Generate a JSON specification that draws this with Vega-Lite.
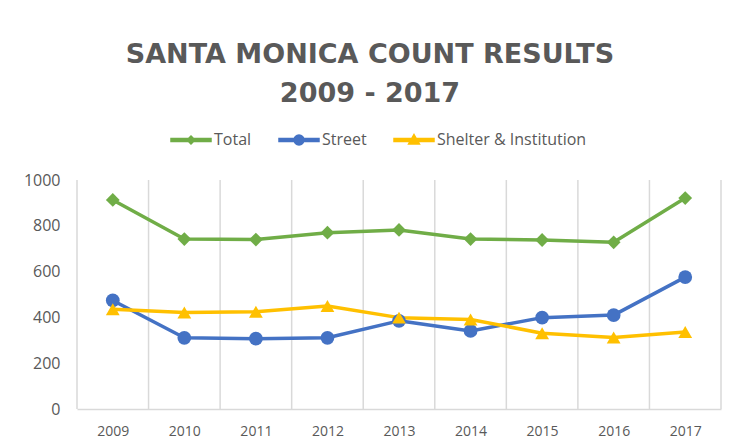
{
  "$schema": "https://vega.github.io/schema/vega-lite/v6.json",
  "width": 644,
  "height": 229,
  "autosize": "none",
  "padding": {"left": 77, "top": 180, "right": 17, "bottom": 36},
  "background": "white",
  "config": {"view": {"stroke": null}, "font": "Open Sans"},
  "title": {
    "text": ["SANTA MONICA COUNT RESULTS", "2009 - 2017"],
    "font": "DejaVu Sans",
    "fontSize": 27,
    "fontWeight": "bold",
    "color": "#595959",
    "lineHeight": 39,
    "anchor": "middle",
    "frame": "group",
    "dx": -29,
    "offset": 11
  },
  "data": {
    "values": [
      {"year": 2009, "series": "Total", "value": 913},
      {"year": 2010, "series": "Total", "value": 742},
      {"year": 2011, "series": "Total", "value": 740},
      {"year": 2012, "series": "Total", "value": 770},
      {"year": 2013, "series": "Total", "value": 782},
      {"year": 2014, "series": "Total", "value": 742},
      {"year": 2015, "series": "Total", "value": 738},
      {"year": 2016, "series": "Total", "value": 728},
      {"year": 2017, "series": "Total", "value": 921},
      {"year": 2009, "series": "Street", "value": 474},
      {"year": 2010, "series": "Street", "value": 311},
      {"year": 2011, "series": "Street", "value": 307},
      {"year": 2012, "series": "Street", "value": 311},
      {"year": 2013, "series": "Street", "value": 385},
      {"year": 2014, "series": "Street", "value": 341},
      {"year": 2015, "series": "Street", "value": 399},
      {"year": 2016, "series": "Street", "value": 410},
      {"year": 2017, "series": "Street", "value": 576},
      {"year": 2009, "series": "Shelter & Institution", "value": 436},
      {"year": 2010, "series": "Shelter & Institution", "value": 421},
      {"year": 2011, "series": "Shelter & Institution", "value": 425},
      {"year": 2012, "series": "Shelter & Institution", "value": 450},
      {"year": 2013, "series": "Shelter & Institution", "value": 399},
      {"year": 2014, "series": "Shelter & Institution", "value": 391},
      {"year": 2015, "series": "Shelter & Institution", "value": 331},
      {"year": 2016, "series": "Shelter & Institution", "value": 312},
      {"year": 2017, "series": "Shelter & Institution", "value": 336}
    ]
  },
  "encoding": {
    "x": {
      "field": "year",
      "type": "quantitative",
      "scale": {"domain": [2008.5, 2017.5], "nice": false, "zero": false},
      "axis": {
        "values": [2009, 2010, 2011, 2012, 2013, 2014, 2015, 2016, 2017],
        "format": "d",
        "title": null,
        "grid": false,
        "ticks": false,
        "domain": true,
        "domainColor": "#D9D9D9",
        "domainWidth": 1.5,
        "labelFont": "Open Sans",
        "labelFontSize": 14,
        "labelColor": "#595959",
        "labelBaseline": "alphabetic",
        "labelPadding": 26
      }
    },
    "y": {
      "field": "value",
      "type": "quantitative",
      "scale": {"domain": [0, 1000], "nice": false},
      "axis": {
        "values": [0, 200, 400, 600, 800, 1000],
        "format": "d",
        "title": null,
        "grid": false,
        "ticks": false,
        "domain": false,
        "labelFont": "Open Sans",
        "labelFontSize": 16,
        "labelColor": "#595959",
        "labelPadding": 17
      }
    },
    "color": {
      "field": "series",
      "type": "nominal",
      "scale": {
        "domain": ["Total", "Street", "Shelter & Institution"],
        "range": ["#70AD47", "#4472C4", "#FFC000"]
      },
      "legend": {
        "title": null,
        "orient": "none",
        "legendX": 93,
        "legendY": -61,
        "direction": "horizontal",
        "symbolSize": 1600,
        "symbolOpacity": 1,
        "gridAlign": "none",
        "labelFont": "Open Sans",
        "labelFontSize": 16,
        "labelColor": "#595959",
        "labelOffset": 2,
        "columnPadding": 24
      }
    }
  },
  "layer": [
    {
      "mark": {"type": "rule", "color": "#D9D9D9", "strokeWidth": 1.5},
      "data": {"values": [{"g": 2008.5}, {"g": 2009.5}, {"g": 2010.5}, {"g": 2011.5}, {"g": 2012.5}, {"g": 2013.5}, {"g": 2014.5}, {"g": 2015.5}, {"g": 2016.5}, {"g": 2017.5}]},
      "encoding": {
        "x": {"field": "g", "type": "quantitative"},
        "y": null,
        "color": null
      }
    },
    {
      "mark": {"type": "line", "strokeWidth": 3.5, "strokeJoin": "round", "strokeCap": "round"}
    },
    {
      "mark": {"type": "point", "filled": true, "opacity": 1, "size": 190},
      "encoding": {
        "shape": {
          "condition": [
            {"test": "datum.series === 'Total'", "value": "diamond"},
            {"test": "datum.series === 'Street'", "value": "circle"}
          ],
          "value": "triangle-up"
        }
      }
    },
    {
      "mark": {"type": "point", "filled": true, "opacity": 0, "size": 10},
      "encoding": {
        "shape": {
          "field": "series",
          "type": "nominal",
          "scale": {
            "domain": ["Total", "Street", "Shelter & Institution"],
            "range": [
              "M-1,-0.07H1V0.07H-1ZM0,-0.2L0.2,0L0,0.2L-0.2,0Z",
              "M-1,-0.07H1V0.07H-1ZM0.25,0A0.25,0.25,0,1,1,-0.25,0A0.25,0.25,0,1,1,0.25,0Z",
              "M-1,-0.07H1V0.07H-1ZM0,-0.27L0.27,0.2L-0.27,0.2Z"
            ]
          },
          "legend": {
            "title": null,
            "orient": "none",
            "legendX": 93,
            "legendY": -61,
            "direction": "horizontal",
            "symbolSize": 1600,
            "symbolOpacity": 1,
            "gridAlign": "none",
            "labelFont": "Open Sans",
            "labelFontSize": 16,
            "labelColor": "#595959",
            "labelOffset": 2,
            "columnPadding": 24
          }
        }
      }
    }
  ]
}
